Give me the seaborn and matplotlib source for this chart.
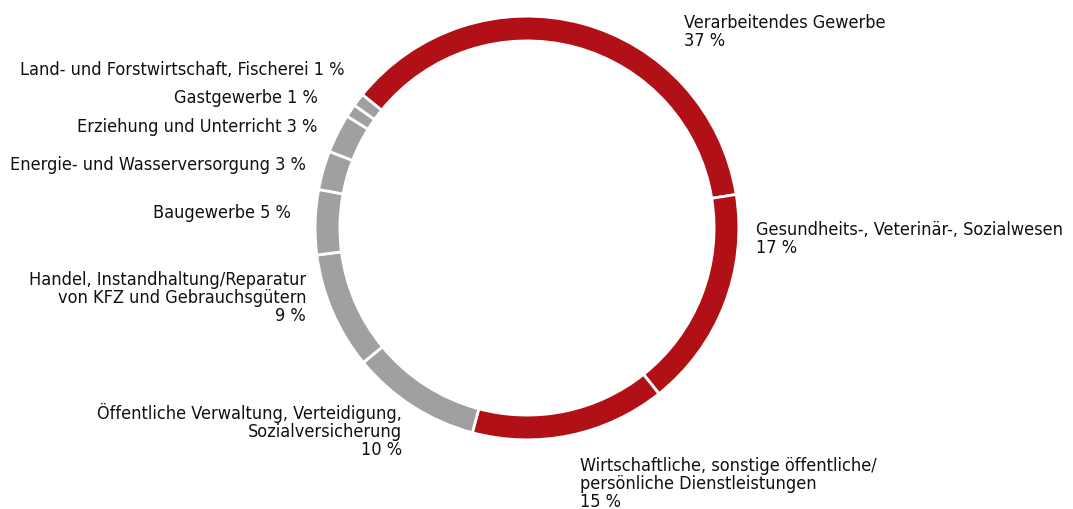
import matplotlib
matplotlib.use("Agg")
import matplotlib.pyplot as plt
import seaborn as sns
from matplotlib import font_manager

# share of employees by sector, clockwise from the top-left
sectors = [
    "Verarbeitendes Gewerbe",
    "Gesundheits-, Veterinär-, Sozialwesen",
    "Wirtschaftliche, sonstige öffentliche/\npersönliche Dienstleistungen",
    "Öffentliche Verwaltung, Verteidigung,\nSozialversicherung",
    "Handel, Instandhaltung/Reparatur\nvon KFZ und Gebrauchsgütern",
    "Baugewerbe",
    "Energie- und Wasserversorgung",
    "Erziehung und Unterricht",
    "Gastgewerbe",
    "Land- und Forstwirtschaft, Fischerei",
]
shares = [37, 17, 15, 10, 9, 5, 3, 3, 1, 1]
highlight = [True, True, True, False, False, False, False, False, False, False]

RED = "#b11116"
GREY = "#a0a0a0"

sns.set_style("white")
names = {f.name for f in font_manager.fontManager.ttflist}
if "Liberation Sans Narrow" in names:
    font = dict(family=["Liberation Sans Narrow", "DejaVu Sans"], size=13.5)
else:
    cond = font_manager.findfont(font_manager.FontProperties(family="DejaVu Sans", stretch="condensed"))
    if "Condensed" in cond:
        font = dict(family=["DejaVu Sans"], stretch="condensed", size=13)
    else:
        font = dict(family=["DejaVu Sans"], size=11)
plt.rcParams["font.family"] = font["family"]

W, H = 1073, 509
fig = plt.figure(figsize=(W / 100, H / 100), dpi=100)

# ring centre (527, 228) px, outer radius 214 px
cx, cy, r = 527, 228, 214
ax = fig.add_axes([(cx - r) / W, (H - cy - r) / H, 2 * r / W, 2 * r / H])
colors = [RED if h else GREY for h in highlight]
ax.pie(shares, colors=colors, startangle=141, counterclock=False, radius=1,
       wedgeprops=dict(width=0.117, edgecolor="white", linewidth=2))
ax.set_xlim(-1.01, 1.01)
ax.set_ylim(-1.01, 1.01)
ax.set_aspect("equal")
ax.axis("off")

# label placement in pixels: (x, y of block centre, alignment, inline percent)
label_pos = [
    (684, 32, "left", False),
    (756, 239, "left", False),
    (580, 484, "left", False),
    (402, 431, "right", False),
    (306, 298, "right", False),
    (291, 213, "right", True),
    (306, 165, "right", True),
    (317, 127, "right", True),
    (318, 98, "right", True),
    (344, 70, "right", True),
]

for name, val, (x, y, ha, inline) in zip(sectors, shares, label_pos):
    txt = f"{name} {val} %" if inline else f"{name}\n{val} %"
    fig.text(x / W, 1 - y / H, txt, ha=ha, va="center", multialignment=ha,
             color="#111111", linespacing=1.0,
             fontstretch=font.get("stretch", "normal"), fontsize=font["size"])

plt.savefig("out.png", dpi=100)
